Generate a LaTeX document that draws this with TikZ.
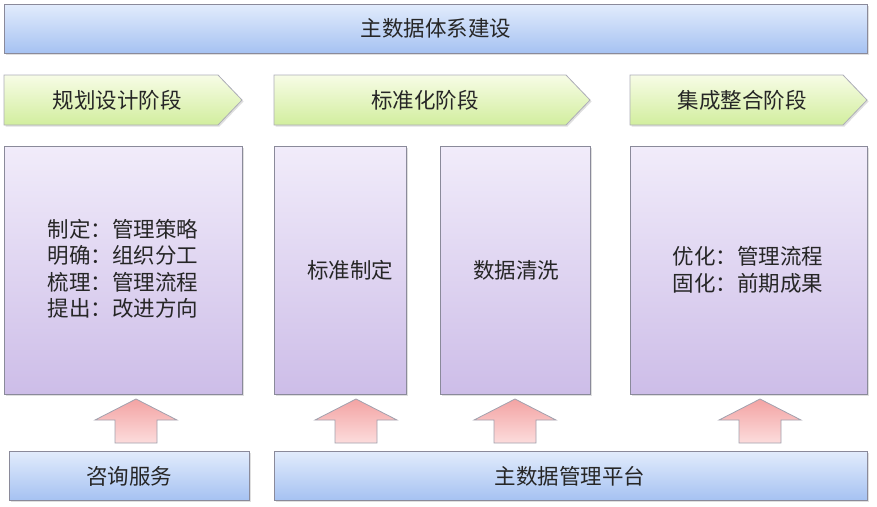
\documentclass[tikz,border=0pt]{standalone}
\usepackage{fontspec}
\setmainfont{Noto Sans CJK SC}
\usetikzlibrary{shapes.symbols,shapes.arrows,shadows}
\definecolor{bordergray}{HTML}{8A8A9A}
\definecolor{blueTop}{HTML}{E2ECFC}
\definecolor{blueBot}{HTML}{A6C2F2}
\definecolor{greenTop}{HTML}{F7FCE6}
\definecolor{greenBot}{HTML}{D2EE9E}
\definecolor{purpTop}{HTML}{F1ECFA}
\definecolor{purpBot}{HTML}{CDBDE8}
\definecolor{redTop}{HTML}{F3A3A3}
\definecolor{redBot}{HTML}{FCDCDC}
\tikzset{
  bluebox/.style={draw=bordergray, line width=0.8pt, top color=blueTop, bottom color=blueBot,
    drop shadow={shadow xshift=1.5pt, shadow yshift=-1.5pt, opacity=0.25}},
  chev/.style={draw=bordergray!70, line width=0.8pt, top color=greenTop, bottom color=greenBot,
    drop shadow={shadow xshift=1.5pt, shadow yshift=-1.5pt, opacity=0.25}},
  purpbox/.style={draw=bordergray, line width=0.8pt, top color=purpTop, bottom color=purpBot,
    drop shadow={shadow xshift=1.5pt, shadow yshift=-1.5pt, opacity=0.25}},
  uparrow/.style={draw=bordergray!80, line width=0.8pt, top color=redTop, bottom color=redBot},
  lbl/.style={font=\fontsize{21.5}{26}\selectfont, text=black!85},
  blk/.style={font=\fontsize{21.5}{26.5}\selectfont, text=black!85, align=left}
}
\begin{document}
\begin{tikzpicture}[x=1pt,y=-1pt]
\useasboundingbox (0,0) rectangle (877,506);
% top bar
\path[bluebox] (4,4) rectangle (867,53);
\node[lbl] (top) at (436,28) {主数据体系建设};
% chevrons
\path[chev] (4,75) -- (218,75) -- (242,100) -- (218,125) -- (4,125) -- cycle;
\node[lbl] (c1) at (117,100) {规划设计阶段};
\path[chev] (274,75) -- (566,75) -- (590,100) -- (566,125) -- (274,125) -- cycle;
\node[lbl] (c2) at (425,100) {标准化阶段};
\path[chev] (630,75) -- (843,75) -- (867,100) -- (843,125) -- (630,125) -- cycle;
\node[lbl] (c3) at (742,100) {集成整合阶段};
% purple boxes
\path[purpbox] (4,146) rectangle (242,394);
\node[blk] (p1) at (123,269) {制定：管理策略\\明确：组织分工\\梳理：管理流程\\提出：改进方向};
\path[purpbox] (274,146) rectangle (406,394);
\node[lbl] (p2) at (350,270) {标准制定};
\path[purpbox] (440,146) rectangle (590,394);
\node[lbl] (p3) at (516,270) {数据清洗};
\path[purpbox] (630,146) rectangle (867,394);
\node[blk] (p4) at (748,270) {优化：管理流程\\固化：前期成果};
% up arrows
\foreach \cx/\nm in {136/a1,356/a2,515/a3,760/a4}{
  \path[uparrow] (\cx-21,443) -- (\cx-21,420) -- (\cx-41,420) -- (\cx,399) -- (\cx+41,420) -- (\cx+21,420) -- (\cx+21,443) -- cycle;
  \coordinate (\nm) at (\cx,420);
}
% bottom boxes
\path[bluebox] (9,451) rectangle (249,500);
\node[lbl] (b1) at (129,476) {咨询服务};
\path[bluebox] (274,451) rectangle (867,500);
\node[lbl] (b2) at (570,476) {主数据管理平台};
\end{tikzpicture}
\end{document}
